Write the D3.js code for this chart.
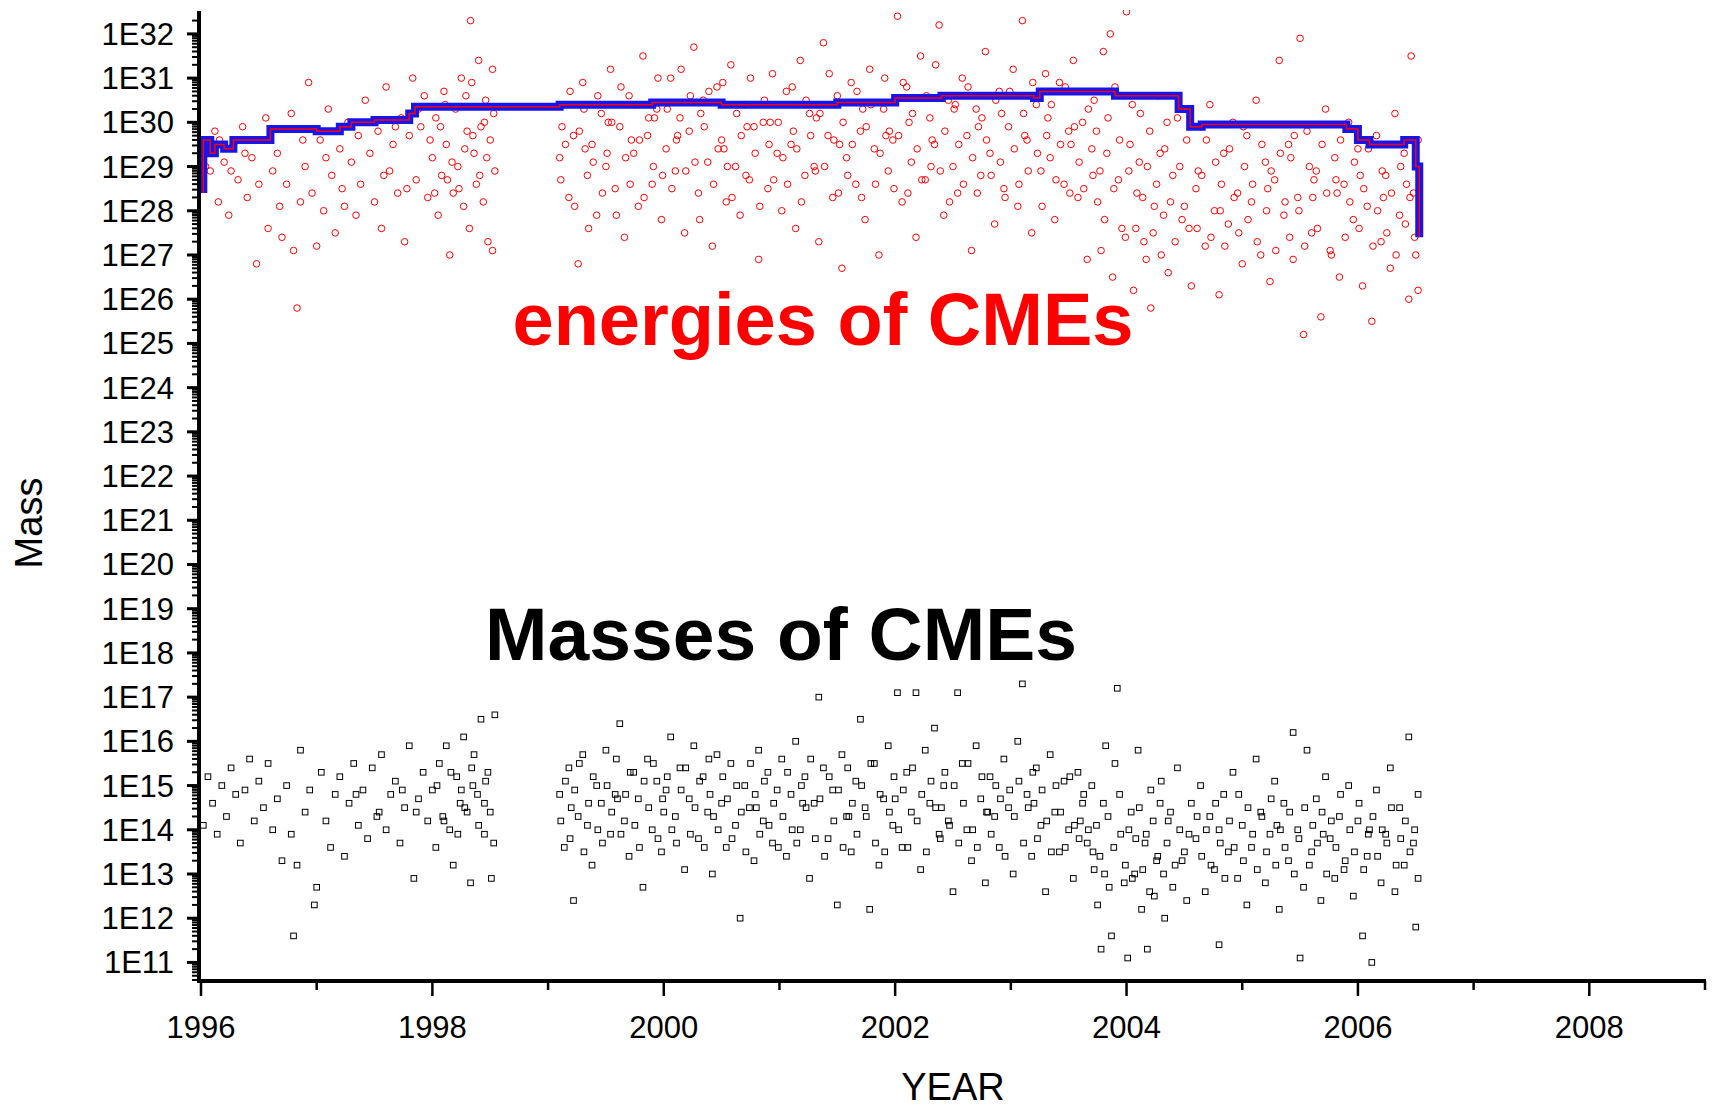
<!DOCTYPE html>
<html><head><meta charset="utf-8">
<script src="https://cdn.jsdelivr.net/npm/d3@7"></script>
<style>body{margin:0;background:#fff}text{font-family:"Liberation Sans",Arial,sans-serif}</style>
</head><body><svg id="c" width="1718" height="1113"></svg>
<script>
// year offset from 1990, log10 value
var energyPts = "6.02 28.5,6.05 29.4,6.08 28.9,6.12 29.8,6.15 28.2,6.2 29.1,6.24 27.9,6.28 29.5,6.32 28.7,6.36 29.9,6.4 28.3,6.44 29.2,6.48 26.8,6.52 29.6,6.56 30.1,6.58 27.6,6.62 28.9,6.66 29.3,6.7 27.4,6.74 28.6,6.78 30.2,6.8 27.1,6.83 25.8,6.86 28.2,6.9 29.0,6.93 30.9,6.96 28.4,7.0 27.2,7.03 29.6,7.06 28.0,7.1 30.3,7.13 28.8,7.16 27.5,7.2 29.4,7.24 28.1,7.27 30.0,7.3 29.1,7.34 27.9,7.38 28.6,7.42 30.5,7.46 29.3,7.5 28.2,7.53 29.8,7.56 27.6,7.6 30.8,7.63 28.9,7.66 29.5,7.7 28.4,7.73 30.1,7.76 27.3,7.8 29.7,7.83 31.0,7.86 28.7,7.9 29.9,7.93 30.6,7.96 28.3,8.0 29.2,8.03 30.1,8.05 27.9,8.08 28.8,8.1 30.7,8.12 29.5,8.15 27.0,8.18 28.4,8.2 30.3,8.22 29.0,8.25 31.0,8.27 28.1,8.3 29.8,8.32 27.6,8.34 30.9,8.36 29.3,8.38 28.6,8.4 31.4,8.42 29.9,8.44 28.2,8.46 30.5,8.48 27.3,8.5 29.6,8.52 31.2,8.54 28.9,8.33 32.3,8.45 30.0,8.28 29.4,8.13 28.7,8.52 27.1,"
 + "6.04 29.0,6.16 29.6,6.26 28.9,6.38 29.3,6.5 28.6,6.68 28.1,6.88 29.6,7.08 29.2,7.22 28.5,7.36 29.7,7.48 30.0,7.58 28.8,7.68 29.9,7.78 28.5,7.88 30.3,7.98 29.6,8.02 28.4,8.07 29.9,8.11 30.4,8.17 29.1,8.23 28.5,8.29 30.6,8.35 29.7,8.41 28.8,8.47 29.2,8.53 30.2,"
 + "9.1 29.2,9.14 30.4,9.18 28.3,9.22 29.7,9.26 26.8,9.3 30.9,9.34 28.8,9.38 29.5,9.42 27.9,9.46 30.2,9.5 29.0,9.54 31.2,9.58 28.5,9.62 29.9,9.66 27.4,9.7 30.6,9.74 29.3,9.78 28.1,9.82 31.5,9.86 29.7,9.9 28.6,9.94 30.3,9.98 27.8,10.02 29.4,10.06 31.0,10.1 28.9,10.14 30.1,10.18 27.5,10.22 29.8,10.26 31.7,10.3 28.4,10.34 30.5,10.38 29.1,10.42 27.2,10.46 30.8,10.5 29.6,10.54 28.2,10.58 31.3,10.62 29.0,10.66 27.9,10.7 30.4,10.74 28.7,10.78 29.9,10.82 26.9,10.86 30.0,10.9 28.5,10.94 31.1,10.98 29.3,11.02 28.0,11.06 30.7,11.1 29.5,11.14 27.6,11.18 31.4,11.22 28.8,11.26 30.2,11.3 29.0,11.34 27.3,11.38 31.8,11.42 29.7,11.46 28.3,11.5 30.6,11.54 26.7,11.58 29.2,11.62 30.9,11.66 28.6,11.7 29.8,11.74 27.8,11.78 31.2,11.82 29.4,11.86 27.0,11.9 30.3,11.94 28.9,11.98 29.6,"
 + "12.02 32.4,12.06 28.2,12.1 30.8,12.14 29.1,12.18 27.4,12.22 31.5,12.26 28.7,12.3 30.1,12.34 29.5,12.38 32.2,12.42 27.9,12.46 30.5,12.5 29.0,12.54 28.4,12.58 31.0,12.62 29.7,12.66 27.1,12.7 30.3,12.74 28.8,12.78 31.6,12.82 29.3,12.86 27.7,12.9 30.7,12.94 28.5,12.98 29.9,13.02 31.2,13.06 28.1,13.1 32.3,13.14 29.6,13.18 27.5,13.22 30.4,13.26 28.9,13.3 31.1,13.34 29.2,13.38 27.8,13.42 30.9,13.46 28.6,13.5 29.8,13.54 31.4,13.58 28.3,13.62 30.0,13.66 26.9,13.7 29.4,"
 + "9.12 29.9,9.32 29.4,9.52 30.0,9.72 29.6,9.92 30.1,10.12 29.7,10.32 30.2,10.52 29.4,10.72 29.9,10.92 30.0,11.12 29.8,11.32 30.1,11.52 29.5,11.72 30.3,11.92 29.7,12.12 30.0,12.32 29.6,12.52 30.4,12.72 29.9,12.92 30.2,13.12 29.7,13.32 30.1,13.52 29.5,"
 + "9.11 28.7,9.15 29.5,9.19 30.7,9.23 28.1,9.27 29.8,9.31 30.3,9.35 27.6,9.39 29.1,9.43 30.6,9.47 28.4,9.51 29.3,9.55 30.0,9.59 27.9,9.63 30.8,9.67 29.2,9.71 28.6,9.75 30.4,9.79 29.6,9.83 28.3,9.87 30.1,9.91 29.0,9.95 31.0,9.99 28.8,10.03 30.3,10.07 28.5,10.11 29.6,10.15 31.2,10.19 28.9,10.23 30.6,10.27 29.1,10.31 27.8,10.35 29.9,10.39 30.7,10.43 28.6,10.47 29.4,10.51 30.9,10.55 29.0,10.59 28.3,10.63 30.2,10.67 29.7,10.71 28.8,10.75 31.0,10.79 29.3,10.83 28.1,10.87 30.5,10.91 29.5,10.95 28.7,10.99 30.0,"
 + "11.03 29.2,11.07 28.6,11.11 30.8,11.15 29.4,11.19 28.2,11.23 30.5,11.27 29.7,11.31 28.9,11.35 30.2,11.39 29.0,11.43 31.1,11.47 29.6,11.51 28.4,11.55 30.0,11.59 28.8,11.63 29.5,11.67 30.7,11.71 28.3,11.75 29.9,11.79 30.4,11.83 28.6,11.87 29.3,11.91 31.0,11.95 29.8,11.99 28.5,12.03 29.7,12.07 30.9,12.11 28.4,12.15 30.2,12.19 29.4,12.23 28.7,12.27 30.6,12.31 29.0,12.35 31.3,12.39 28.9,12.43 29.8,12.47 28.2,12.51 30.3,12.55 29.5,12.59 28.6,12.63 30.8,12.67 29.2,12.71 28.4,12.75 30.1,12.79 29.6,12.83 28.8,12.87 30.5,12.91 29.1,12.95 28.3,12.99 30.7,"
 + "13.03 29.4,13.07 28.6,13.11 30.2,13.15 28.9,13.19 30.9,13.23 29.3,13.27 28.1,13.31 29.7,13.35 30.4,13.39 28.7,13.43 29.5,13.47 30.8,13.51 28.4,13.55 29.9,13.59 29.1,13.63 28.5,13.67 30.3,13.71 28.8,"
 + "13.72 30.5,13.75 28.2,13.78 27.1,13.8 31.6,13.83 29.3,13.86 32.0,13.88 26.5,13.9 30.8,13.93 28.7,13.96 27.6,14.0 32.5,14.03 29.5,14.06 26.2,14.09 28.4,14.12 30.2,14.15 27.3,14.18 29.0,14.21 25.8,14.24 28.1,14.27 30.6,14.3 27.0,14.33 29.4,14.36 26.6,14.4 28.8,14.44 30.1,14.48 27.8,14.52 29.6,14.56 26.3,"
 + "13.74 29.8,13.77 28.9,13.81 27.8,13.84 30.1,13.89 28.5,13.94 29.6,13.99 27.4,14.02 28.9,14.05 30.4,14.08 27.6,14.11 29.1,14.14 28.3,14.17 26.9,14.2 29.8,14.23 27.5,14.26 28.6,14.29 29.3,14.32 27.9,14.35 30.0,14.38 28.2,14.42 27.3,14.46 29.0,14.5 28.1,14.54 27.6,"
 + "14.6 28.5,14.64 29.9,14.68 27.2,14.72 30.4,14.76 28.0,14.8 26.1,14.84 29.3,14.88 27.7,14.92 30.0,14.96 28.4,15.0 26.8,15.04 29.7,15.08 28.2,15.12 30.5,15.16 27.0,15.2 29.1,15.24 26.4,15.28 28.7,15.32 31.4,15.36 27.9,15.4 29.5,15.44 26.9,15.48 28.3,15.5 31.9,15.53 25.2,15.56 29.8,15.6 27.5,15.64 28.9,15.68 25.6,15.72 30.3,15.76 27.1,15.8 29.2,15.84 26.5,15.88 28.6,15.92 30.0,15.96 27.8,16.0 29.4,16.04 26.3,16.08 28.1,16.12 25.5,16.16 29.7,16.2 27.3,16.24 28.8,16.28 26.7,16.32 30.2,16.36 27.9,16.4 29.3,16.44 26.0,16.46 31.5,16.48 28.4,16.5 27.0,16.52 26.2,16.52 29.6,"
 + "14.62 28.9,14.82 28.6,15.02 29.0,15.22 28.5,15.42 29.2,15.62 28.7,15.82 28.4,16.02 28.8,16.22 28.3,16.42 28.6,"
 + "14.61 27.6,14.65 28.8,14.69 29.6,14.73 27.4,14.77 29.1,14.81 28.0,14.85 27.2,14.89 29.4,14.93 28.3,14.97 27.5,15.01 29.9,15.05 27.8,15.09 28.6,15.13 27.3,15.17 29.5,15.21 28.0,15.25 28.9,15.29 27.1,15.33 29.3,15.37 28.2,15.41 27.4,15.45 29.7,15.49 28.0,15.54 27.2,15.58 29.0,15.61 28.3,15.65 27.6,15.69 29.5,15.73 28.4,15.77 27.0,15.81 28.7,15.85 29.6,15.89 27.4,15.93 28.2,15.97 29.1,16.01 27.6,16.05 28.5,16.09 29.4,16.13 27.2,16.17 28.0,16.21 28.9,16.25 27.5,16.29 28.4,16.33 27.0,16.37 29.0,16.41 27.7,16.45 28.3,16.49 27.4";

var massPts = "6.02 14.1,6.06 15.2,6.1 14.6,6.14 13.9,6.18 15.0,6.22 14.3,6.26 15.4,6.3 14.8,6.34 13.7,6.38 14.9,6.42 15.6,6.46 14.2,6.5 15.1,6.54 14.5,6.58 15.5,6.62 14.0,6.66 14.7,6.7 13.3,6.74 15.0,6.78 13.9,6.8 11.6,6.83 13.2,6.86 15.8,6.9 14.4,6.94 14.9,6.98 12.3,7.0 12.7,7.04 15.3,7.08 14.2,7.12 13.6,7.16 14.8,7.2 15.2,7.24 13.4,7.28 14.6,7.32 15.5,7.36 14.1,7.4 14.9,7.44 13.8,7.48 15.4,7.52 14.3,7.56 15.7,7.6 14.0,7.64 14.8,7.68 15.1,7.72 13.7,7.76 14.5,7.8 15.9,7.84 12.9,7.88 14.7,7.92 15.3,7.96 14.2,"
 + "8.0 14.9,8.03 13.6,8.06 15.5,8.09 14.3,8.12 15.9,8.15 14.0,8.18 13.2,8.21 15.2,8.24 14.6,8.27 16.1,8.3 14.4,8.33 12.8,8.36 15.7,8.39 14.8,8.42 16.5,8.45 13.9,8.48 15.3,8.51 12.9,8.54 16.6,8.25 14.9,8.35 15.0,8.45 14.6,"
 + "7.86 14.4,8.04 15.0,8.1 14.2,8.16 15.3,8.22 13.9,8.28 14.5,8.34 15.4,8.4 14.1,8.46 15.1,8.5 14.4,8.53 13.7,7.74 14.9,7.54 14.4,7.34 14.8,"
 + "9.1 14.8,9.14 13.6,9.18 15.4,9.22 12.4,9.26 14.3,9.3 15.7,9.34 14.1,9.38 13.2,9.42 15.0,9.46 14.6,9.5 15.8,9.54 13.9,9.58 14.8,9.62 16.4,9.66 14.2,9.7 13.4,9.74 15.3,9.78 14.7,9.82 12.7,9.86 15.6,9.9 14.0,9.94 15.1,9.98 13.5,10.02 14.9,10.06 16.1,10.1 14.3,10.14 15.4,10.18 13.1,10.22 14.7,10.26 15.9,10.3 13.8,10.34 15.2,10.38 14.4,10.42 13.0,10.46 15.7,10.5 14.6,10.54 13.6,10.58 15.5,10.62 14.1,10.66 12.0,10.7 15.0,10.74 14.5,10.78 13.3,10.82 15.8,10.86 14.2,10.9 15.3,10.94 13.7,10.98 14.9,"
 + "11.02 15.6,11.06 13.4,11.1 14.8,11.14 16.0,11.18 14.0,11.22 15.2,11.26 12.9,11.3 14.6,11.34 17.0,11.38 15.4,11.42 13.8,11.46 14.9,11.5 12.3,11.54 15.7,11.58 14.3,11.62 13.5,11.66 15.1,11.7 16.5,11.74 14.5,11.78 12.2,11.82 15.5,11.86 13.2,11.9 14.7,11.94 15.9,11.98 14.1,12.02 17.1,12.06 13.6,12.1 15.3,12.14 14.4,12.18 17.1,12.22 13.1,12.26 15.8,12.3 14.6,12.34 16.3,12.38 13.9,12.42 15.0,12.46 14.2,12.5 12.6,12.54 17.1,12.58 15.5,12.62 14.0,12.66 13.3,12.7 15.9,12.74 14.7,12.78 12.8,12.82 15.2,12.86 14.3,12.9 13.6,12.94 15.6,12.98 14.5,"
 + "13.02 13.0,13.06 16.0,13.1 17.3,13.14 14.8,13.18 13.4,13.22 15.4,13.26 14.1,13.3 12.6,13.34 15.7,13.38 14.4,13.42 13.5,13.46 15.1,13.5 14.0,13.54 12.9,13.58 15.3,13.62 14.6,13.66 13.7,13.7 15.0,13.72 13.1,13.75 12.3,13.78 11.3,13.8 14.6,13.82 15.9,13.85 12.7,13.87 11.6,13.9 15.5,13.92 17.2,13.95 13.9,13.98 12.8,14.01 11.1,14.04 14.4,14.07 13.0,14.1 15.8,14.13 12.2,14.16 13.7,14.18 11.3,14.21 14.9,14.24 12.5,14.27 13.4,14.3 15.1,14.33 12.0,14.36 14.2,14.4 12.7,14.44 15.4,14.48 13.3,14.52 12.4,14.56 14.6,"
 + "14.6 13.8,14.64 15.0,14.68 12.6,14.72 14.3,14.76 13.1,14.8 11.4,14.84 14.8,14.88 13.5,14.92 15.3,14.96 12.9,15.0 14.1,15.04 12.3,15.08 13.6,15.12 15.6,15.16 14.4,15.2 12.8,15.24 13.9,15.28 15.1,15.32 12.2,15.36 14.6,15.4 13.3,15.44 16.2,15.48 14.0,15.5 11.1,15.53 12.7,15.56 15.8,15.6 13.5,15.64 14.7,15.68 12.4,15.72 15.2,15.76 13.8,15.8 12.9,15.84 14.3,15.88 13.1,15.92 15.0,15.96 12.5,16.0 14.2,16.04 11.6,16.08 13.4,16.12 11.0,16.16 14.9,16.2 12.8,16.24 13.9,16.28 15.4,16.32 12.6,16.36 14.5,16.4 13.2,16.44 16.1,16.48 13.7,16.5 11.8,16.52 12.9,16.52 14.8,"
 + "9.2 14.5,9.6 14.7,10.0 14.4,10.4 14.8,10.8 14.5,11.2 14.6,11.6 14.3,12.0 14.7,12.4 14.5,12.8 14.4,13.2 14.6,13.6 14.2,14.8 14.0,15.3 14.1,15.7 13.9,16.1 14.0,"
 + "9.11 14.2,9.15 15.1,9.19 13.8,9.23 14.9,9.27 15.5,9.31 13.5,9.35 14.6,9.39 15.2,9.43 14.0,9.47 13.7,9.51 15.0,9.55 14.4,9.59 15.6,9.63 13.9,9.67 14.8,9.71 15.3,9.75 14.1,9.79 13.6,9.83 15.1,9.87 14.5,9.91 15.5,9.95 13.8,9.99 14.7,10.03 15.2,10.07 14.0,10.11 13.7,10.15 14.9,10.19 15.4,10.23 13.9,10.27 14.5,10.31 15.1,10.35 13.6,10.39 15.6,10.43 14.3,10.47 14.0,10.51 15.2,10.55 14.7,10.59 13.8,10.63 15.0,10.67 14.4,10.71 13.5,10.75 15.5,10.79 14.8,10.83 13.9,10.87 15.1,10.91 14.1,10.95 14.6,10.99 13.6,"
 + "11.03 14.3,11.07 15.3,11.11 14.0,11.15 13.7,11.19 15.0,11.23 14.5,11.27 15.6,11.31 13.8,11.35 14.7,11.39 13.4,11.43 15.2,11.47 14.2,11.51 14.9,11.55 13.6,11.59 15.4,11.63 14.6,11.67 13.9,11.71 15.0,11.75 14.3,11.79 15.5,11.83 13.7,11.87 14.8,11.91 13.5,11.95 14.4,11.99 15.2,12.03 14.0,12.07 14.9,12.11 13.6,12.15 15.4,12.19 14.2,12.23 14.8,12.27 13.5,12.31 15.1,12.35 14.5,12.39 13.8,12.43 15.3,12.47 14.1,12.51 15.0,12.55 13.7,12.59 14.6,12.63 15.5,12.67 14.0,12.71 13.6,12.75 15.2,12.79 14.4,12.83 13.9,12.87 15.0,12.91 14.7,12.95 13.4,12.99 14.9,"
 + "13.03 14.3,13.07 15.1,13.11 13.7,13.15 14.5,13.19 15.3,13.23 13.8,13.27 14.9,13.31 14.2,13.35 13.5,13.39 15.0,13.43 14.4,13.47 13.6,13.51 15.2,13.55 14.1,13.59 13.8,13.63 14.8,13.67 14.0,13.71 13.5,13.74 14.1,13.77 13.4,13.81 13.0,13.84 14.3,13.89 13.6,13.94 14.8,13.99 13.2,14.02 14.0,14.05 12.9,14.08 13.8,14.11 14.5,14.14 13.1,14.17 13.9,14.2 12.6,14.23 14.2,14.26 13.3,14.29 14.6,14.32 13.0,14.35 13.7,14.38 14.4,14.42 13.2,14.46 14.0,14.5 13.5,14.54 13.9,"
 + "14.61 14.3,14.65 13.4,14.69 14.0,14.73 13.2,14.77 14.6,14.81 13.7,14.85 12.9,14.89 14.2,14.93 13.6,14.97 14.8,15.01 13.3,15.05 14.5,15.09 13.9,15.13 13.1,15.17 14.3,15.21 13.5,15.25 14.7,15.29 13.2,15.33 14.0,15.37 13.6,15.41 14.4,15.45 13.0,15.49 13.8,15.54 14.5,15.58 13.2,15.61 14.1,15.65 13.7,15.69 14.4,15.73 13.0,15.77 14.2,15.81 13.6,15.85 14.8,15.89 13.3,15.93 14.0,15.97 13.5,16.01 14.6,16.05 13.1,16.09 13.9,16.13 14.3,16.17 13.4,16.21 14.0,16.25 13.7,16.29 14.5,16.33 13.2,16.37 13.8,16.41 14.2,16.45 13.5,16.49 14.0";

// stepped envelope line (year, log10 energy), drawn step-after
var envYears = [1996.02,1996.02,1996.08,1996.12,1996.2,1996.28,1996.6,1997.0,1997.2,1997.3,1997.5,1997.8,1997.85,1999.1,1999.9,2000.5,2001.5,2002.0,2002.4,2003.2,2003.25,2003.9,2004.45,2004.55,2004.65,2005.9,2006.0,2006.1,2006.4,2006.5,2006.53];
var envLogE = [28.4,29.6,29.3,29.5,29.4,29.6,29.85,29.8,29.9,30.0,30.05,30.2,30.35,30.4,30.45,30.4,30.45,30.55,30.6,30.55,30.7,30.6,30.3,29.9,29.95,29.85,29.6,29.5,29.6,29.0,27.4];

var yTickExp = d3.range(11, 33);
var xTickYears = d3.range(1996, 2010, 2);

function parsePts(s) {
    return s.split(",").map(p => { var a = p.trim().split(" "); return {x: 1990 + +a[0], y: +a[1]}; });
}
var energies = parsePts(energyPts), masses = parsePts(massPts);

var svg = d3.select("#c");
var x = d3.scaleLinear().domain([1996, 2009]).range([201, 1705]);
var y = d3.scaleLinear().domain([10.58, 32.45]).range([981, 14]);

svg.append("clipPath").attr("id", "cl").append("rect")
    .attr("x", 201).attr("y", 10).attr("width", 1505).attr("height", 971);

var plot = svg.append("g").attr("clip-path", "url(#cl)");
plot.selectAll(".e").data(energies).enter().append("circle")
    .attr("cx", d => x(d.x)).attr("cy", d => y(d.y)).attr("r", 3.3)
    .attr("fill", "none").attr("stroke", "red").attr("stroke-width", 1);
plot.selectAll(".m").data(masses).enter().append("rect")
    .attr("x", d => x(d.x) - 2.8).attr("y", d => y(d.y) - 2.8).attr("width", 5.6).attr("height", 5.6)
    .attr("fill", "none").attr("stroke", "black").attr("stroke-width", 1);

var line = d3.line().curve(d3.curveStepAfter).x(d => x(d)).y((d, i) => y(envLogE[i]));
plot.append("path").attr("d", line(envYears)).attr("fill", "none").attr("stroke", "#1515ee").attr("stroke-width", 8);
plot.append("path").attr("d", line(envYears)).attr("fill", "none").attr("stroke", "red").attr("stroke-width", 1.5);

// axes with log minor ticks
var ax = svg.append("g");
ax.append("line").attr("x1", 199).attr("x2", 199).attr("y1", 11).attr("y2", 983).attr("stroke", "black").attr("stroke-width", 4);
ax.append("line").attr("x1", 197).attr("x2", 1706).attr("y1", 981).attr("y2", 981).attr("stroke", "black").attr("stroke-width", 4);
var minors = [];
d3.range(10, 33).forEach(e => [2,3,4,5,6,7,8,9].forEach(k => { var v = e + Math.log10(k); if (v > 10.6 && v < 32.45) minors.push(v); }));
ax.selectAll(".mn").data(minors).enter().append("line")
    .attr("x1", 192).attr("x2", 199).attr("y1", d => y(d)).attr("y2", d => y(d)).attr("stroke", "black").attr("stroke-width", 2);
ax.selectAll(".mj").data(yTickExp).enter().append("line")
    .attr("x1", 187).attr("x2", 199).attr("y1", d => y(d)).attr("y2", d => y(d)).attr("stroke", "black").attr("stroke-width", 3);
ax.selectAll(".yl").data(yTickExp).enter().append("text")
    .attr("x", 174).attr("y", d => y(d) + 11).attr("text-anchor", "end").attr("font-size", 31)
    .text(d => "1E" + d);

ax.selectAll(".xt").data(d3.range(1996, 2010)).enter().append("line")
    .attr("x1", d => x(d)).attr("x2", d => x(d)).attr("y1", 981).attr("y2", d => d % 2 ? 990 : 996)
    .attr("stroke", "black").attr("stroke-width", 2.5);
ax.selectAll(".xl").data(xTickYears).enter().append("text")
    .attr("x", d => x(d)).attr("y", 1038).attr("text-anchor", "middle").attr("font-size", 31).text(d => d);

svg.append("text").attr("x", 953).attr("y", 1100).attr("text-anchor", "middle").attr("font-size", 38).text("YEAR");
svg.append("text").attr("transform", "translate(42,523) rotate(-90)").attr("text-anchor", "middle").attr("font-size", 38).text("Mass");

svg.append("text").attr("x", 823).attr("y", 345).attr("text-anchor", "middle").attr("font-size", 74)
    .attr("font-weight", "bold").attr("fill", "red").text("energies of CMEs");
svg.append("text").attr("x", 781).attr("y", 660).attr("text-anchor", "middle").attr("font-size", 75)
    .attr("font-weight", "bold").attr("fill", "black").text("Masses of CMEs");
</script></body></html>
